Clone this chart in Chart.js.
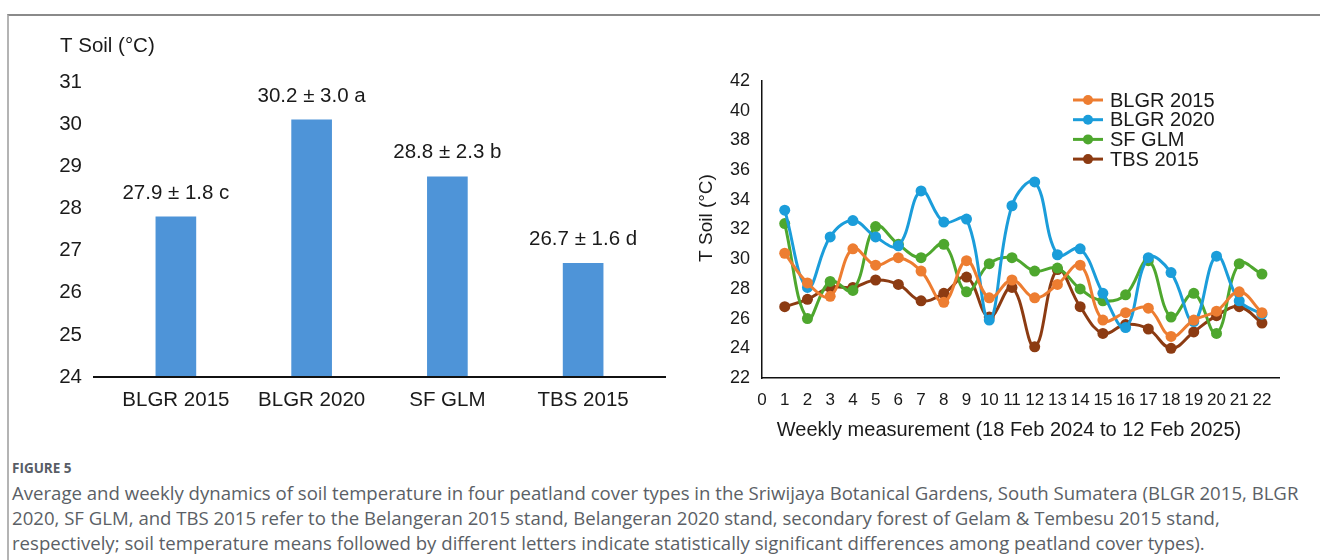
<!DOCTYPE html>
<html>
<head>
<meta charset="utf-8">
<script src="https://cdn.jsdelivr.net/npm/chart.js@4.4.1/dist/chart.umd.min.js"></script>
<style>
  html, body { margin: 0; padding: 0; background: #fff; }
  body { width: 1320px; height: 560px; position: relative; overflow: hidden; }
  .frame { position: absolute; left: 7px; top: 14px; right: 0; bottom: 0;
           border-top: 2px solid #8a8a8a; border-left: 2px solid #b4b4b4; }
  #barBox { position: absolute; left: 0; top: 0; width: 700px; height: 430px; }
  #lineBox { position: absolute; left: 690px; top: 0; width: 630px; height: 460px; }
  .fig { position: absolute; left: 12px; top: 459px; font: bold 13.5px "Open Sans", sans-serif; color: #585d66; }
  .cap { position: absolute; left: 12px; top: 480px; font: 18.6px "Open Sans", sans-serif;
         color: #5b5f66; line-height: 25px; white-space: nowrap; }
</style>
</head>
<body>
<div class="frame"></div>
<div id="barBox"><canvas id="barChart" width="700" height="430"></canvas></div>
<div id="lineBox"><canvas id="lineChart" width="630" height="460"></canvas></div>
<div class="fig">FIGURE 5</div>
<div class="cap">Average and weekly dynamics of soil temperature in four peatland cover types in the Sriwijaya Botanical Gardens, South Sumatera (BLGR 2015, BLGR<br>2020, SF GLM, and TBS 2015 refer to the Belangeran 2015 stand, Belangeran 2020 stand, secondary forest of Gelam &amp; Tembesu 2015 stand,<br>respectively; soil temperature means followed by different letters indicate statistically significant differences among peatland cover types).</div>

<script>
// 数据
const covers = ['BLGR 2015', 'BLGR 2020', 'SF GLM', 'TBS 2015'];
const meanTemp = [27.8, 30.1, 28.75, 26.7];
const meanLabels = ['27.9 ± 1.8 c', '30.2 ± 3.0 a', '28.8 ± 2.3 b', '26.7 ± 1.6 d'];

const weeks = [1, 2, 3, 4, 5, 6, 7, 8, 9, 10, 11, 12, 13, 14, 15, 16, 17, 18, 19, 20, 21, 22];
const weekTicks = [0, 1, 2, 3, 4, 5, 6, 7, 8, 9, 10, 11, 12, 13, 14, 15, 16, 17, 18, 19, 20, 21, 22];
const blgr2015 = [30.4, 28.4, 27.5, 30.7, 29.6, 30.1, 29.2, 27.1, 29.9, 27.4, 28.6, 27.4, 28.3, 29.6, 25.9, 26.4, 26.7, 24.8, 25.9, 26.5, 27.8, 26.4];
const blgr2020 = [33.3, 28.1, 31.5, 32.6, 31.5, 30.9, 34.6, 32.5, 32.7, 25.9, 33.6, 35.2, 30.3, 30.7, 27.7, 25.4, 30.1, 29.1, 25.8, 30.2, 27.2, 26.3];
const sfGlm = [32.4, 26.0, 28.5, 27.9, 32.2, 31.0, 30.1, 31.0, 27.8, 29.7, 30.1, 29.2, 29.4, 28.0, 27.2, 27.6, 29.9, 26.1, 27.7, 25.0, 29.7, 29.0];
const tbs2015 = [26.8, 27.3, 28.1, 28.1, 28.6, 28.3, 27.2, 27.7, 28.8, 26.1, 28.1, 24.1, 29.3, 26.8, 25.0, 25.6, 25.3, 24.0, 25.1, 26.2, 26.8, 25.7];

const seriesNames = ['BLGR 2015', 'BLGR 2020', 'SF GLM', 'TBS 2015'];
const seriesColors = ['#ed7d31', '#1b9dda', '#4ea72e', '#8c3b12'];

const FONT = '"Liberation Sans", Arial, sans-serif';
Chart.defaults.font.family = FONT;
Chart.defaults.font.size = 18;
Chart.defaults.color = '#1a1a1a';
Chart.defaults.animation = false;

// 左图：均值柱状图
const barDecor = {
    id: 'barDecor',
    afterDatasetsDraw(chart) {
        const ctx = chart.ctx;
        const area = chart.chartArea;
        ctx.save();
        // 加长的横轴线
        ctx.strokeStyle = '#111';
        ctx.lineWidth = 2;
        ctx.beginPath();
        ctx.moveTo(area.left - 15, area.bottom);
        ctx.lineTo(area.right + 15, area.bottom);
        ctx.stroke();
        // 柱顶标签
        ctx.fillStyle = '#1a1a1a';
        ctx.font = '20.5px ' + FONT;
        ctx.textAlign = 'center';
        ctx.textBaseline = 'middle';
        chart.getDatasetMeta(0).data.forEach((bar, i) => {
            ctx.fillText(meanLabels[i], bar.x, bar.y - 24);
        });
        // 轴标题
        ctx.textAlign = 'left';
        ctx.fillText('T Soil (°C)', 60, 46);
        ctx.restore();
    }
};

new Chart(document.getElementById('barChart'), {
    type: 'bar',
    data: {
        labels: covers,
        datasets: [{
            data: meanTemp,
            backgroundColor: '#4e94d8',
            barThickness: 40
        }]
    },
    options: {
        responsive: false,
        layout: { padding: { left: 0, right: 49, top: 82, bottom: 13 } },
        plugins: { legend: { display: false }, tooltip: { enabled: false } },
        scales: {
            x: {
                grid: { display: false, drawTicks: false },
                border: { display: false },
                ticks: { padding: 11, font: { size: 20.5 } },
                afterFit(scale) { scale.height = 40; }
            },
            y: {
                min: 24, max: 31,
                grid: { display: false, drawTicks: false },
                border: { display: false },
                ticks: { stepSize: 1, padding: 26, font: { size: 20.5 } },
                afterFit(scale) { scale.width = 108; }
            }
        }
    },
    plugins: [barDecor]
});

// 右图：每周变化
const lineDecor = {
    id: 'lineDecor',
    afterDraw(chart) {
        const ctx = chart.ctx;
        ctx.save();
        ctx.font = '20px ' + FONT;
        ctx.textBaseline = 'middle';
        ctx.textAlign = 'left';
        seriesNames.forEach((name, i) => {
            const y = 100 + i * 19.7;
            ctx.strokeStyle = seriesColors[i];
            ctx.lineWidth = 3;
            ctx.beginPath();
            ctx.moveTo(383, y);
            ctx.lineTo(413, y);
            ctx.stroke();
            ctx.fillStyle = seriesColors[i];
            ctx.beginPath();
            ctx.arc(398, y, 5, 0, Math.PI * 2);
            ctx.fill();
            ctx.fillStyle = '#1a1a1a';
            ctx.fillText(name, 420, y + 1);
        });
        // 轴标题
        ctx.textAlign = 'center';
        ctx.fillText('Weekly measurement (18 Feb 2024 to 12 Feb 2025)', 319, 430);
        ctx.translate(17, 218);
        ctx.rotate(-Math.PI / 2);
        ctx.font = '19px ' + FONT;
        ctx.fillText('T Soil (°C)', 0, 0);
        ctx.restore();
    }
};

const seriesData = [blgr2015, blgr2020, sfGlm, tbs2015];

new Chart(document.getElementById('lineChart'), {
    type: 'line',
    data: {
        datasets: seriesData.map((vals, i) => ({
            label: seriesNames[i],
            data: weeks.map((w, j) => ({ x: w, y: vals[j] })),
            borderColor: seriesColors[i],
            backgroundColor: seriesColors[i],
            borderWidth: 3,
            pointRadius: 5.5,
            pointBorderWidth: 0,
            tension: 0.4
        }))
    },
    options: {
        responsive: false,
        layout: { padding: { left: 0, right: 41, top: 81, bottom: 19 } },
        plugins: { legend: { display: false }, tooltip: { enabled: false } },
        scales: {
            x: {
                type: 'linear',
                min: 0, max: 22.75,
                grid: { display: false, drawTicks: false },
                border: { display: true, color: '#111', width: 1.5 },
                ticks: { padding: 12, autoSkip: false, maxRotation: 0, font: { size: 17 } },
                afterBuildTicks(scale) { scale.ticks = weekTicks.map(v => ({ value: v })); },
                afterFit(scale) { scale.height = 63; }
            },
            y: {
                min: 22, max: 42,
                grid: { display: false, drawTicks: false },
                border: { display: true, color: '#111', width: 1.5 },
                ticks: { stepSize: 2, padding: 12 },
                afterFit(scale) { scale.width = 72; }
            }
        }
    },
    plugins: [lineDecor]
});
</script>
</body>
</html>
